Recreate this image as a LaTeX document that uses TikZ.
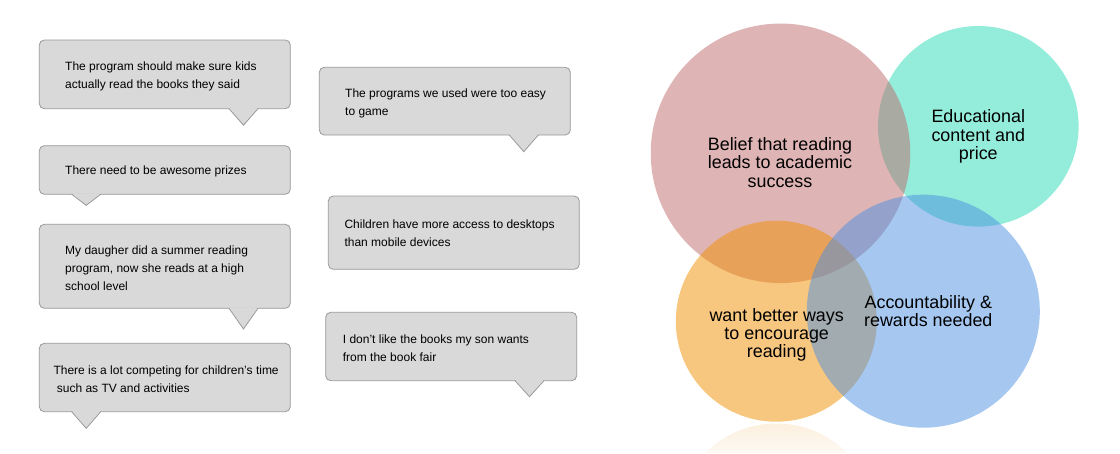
\documentclass[tikz,border=0pt]{standalone}
\usepackage{fontspec}
\setmainfont{Liberation Sans}
\usetikzlibrary{positioning,calc}

\definecolor{bubblefill}{RGB}{217,217,217}
\definecolor{bubbleline}{RGB}{152,152,152}
\definecolor{beliefpink}{RGB}{191,105,107}
\definecolor{contentteal}{RGB}{41,217,181}
\definecolor{encourageorange}{RGB}{241,143,0}
\definecolor{rewardsblue}{RGB}{75,143,225}
\definecolor{reflecttop}{RGB}{252,239,221}
\definecolor{reflectbottom}{RGB}{254,249,243}

\begin{document}
\begin{tikzpicture}[x=1pt, y=-1pt,
		bubble/.style={draw=bubbleline, fill=bubblefill, line width=0.8pt, rounded corners=5pt,
			minimum width=251, inner sep=0pt, outer sep=0pt, anchor=north west},
		quote/.style={anchor=west, align=left, inner sep=0pt, font=\fontsize{12}{18}\selectfont},
		tail/.style={draw=bubbleline, line width=0.8pt},
		blob/.style={circle, inner sep=0pt, outer sep=0pt, fill opacity=0.5},
		topic/.style={align=center, inner sep=0pt, font=\fontsize{17.9}{18.3}\selectfont}]
\useasboundingbox (0,0) rectangle (1120,453);

% speech bubbles, left column
\node [bubble, minimum height=68.7] (verify) at (39.3,40) {};
\node [quote] (verify-t) at ($(verify.west)+(25.7,2)$) {The program should make sure kids\\actually read the books they said};
\node [bubble, minimum height=48.6] (prizes) at (39.3,145.7) {};
\node [quote] (prizes-t) at ($(prizes.west)+(25.7,1)$) {There need to be awesome prizes};
\node [bubble, minimum height=84] (summer) at (39.3,224.3) {};
\node [quote] (summer-t) at ($(summer.west)+(25.7,1.5)$) {My daugher did a summer reading\\program, now she reads at a high\\school level};
\node [bubble, minimum height=68.4] (competing) at (39.3,343.3) {};
\node [quote] (competing-t) at ($(competing.west)+(14,2)$) {There is a lot competing for children's time\\\hspace*{3.4pt}such as TV and activities};

% speech bubbles, middle column
\node [bubble, minimum height=67.7] (easygame) at (319.3,67.3) {};
\node [quote] (easygame-t) at ($(easygame.west)+(25.7,2)$) {The programs we used were too easy\\to game};
\node [bubble, minimum height=73.3] (desktops) at (328.3,196) {};
\node [quote] (desktops-t) at ($(desktops.west)+(16,1)$) {Children have more access to desktops\\than mobile devices};
\node [bubble, minimum height=68.4] (bookfair) at (325.7,312.3) {};
\node [quote] (bookfair-t) at ($(bookfair.west)+(17,2)$) {I don't like the books my son wants\\from the book fair};

% pointers under the bubbles
\foreach \b/\dx/\h in {verify/189.7/16.5, prizes/32.4/11, summer/189.7/20.7,
		competing/32.4/16.7, easygame/190/16.7, bookfair/189.3/16} {
	\fill [bubblefill] ($(\b.south west)+(\dx,-1)$) -- ++(14.5,\h+1) -- ++(14.5,-\h-1) -- cycle;
	\draw [tail] ($(\b.south west)+(\dx,0)$) -- ++(14.5,\h) -- ++(14.5,-\h);
}

% overlapping circles
\node [blob, fill=contentteal, minimum size=200.6] (content) at (978.3,126.3) {};
\node [blob, fill=beliefpink, minimum size=259.5] (belief) at (780.5,153.3) {};
\node [blob, fill=encourageorange, minimum size=201] (encourage) at (776.3,321.2) {};
\node [blob, fill=rewardsblue, minimum size=233] (rewards) at (923.3,311.2) {};

% faint reflection of the orange circle, in thin bands
\begin{scope}
	\clip (776.3,524) circle [radius=100.5];
	\foreach [evaluate=\i as \pct using int(\i*7)] \i in {0,...,14}
		\fill [reflectbottom!\pct!reflecttop] (670,423+2*\i) rectangle (890,425.2+2*\i);
\end{scope}

\node [topic] (belief-t) at (780,162.5) {Belief that reading\\leads to academic\\success};
\node [topic] (content-t) at (978.3,136.5) {Educational\\content and\\price};
\node [topic] (encourage-t) at (776.7,334.8) {want better ways\\to encourage\\reading};
\node [topic] (rewards-t) at (928.3,311) {Accountability \&\\rewards needed};
\end{tikzpicture}
\end{document}
